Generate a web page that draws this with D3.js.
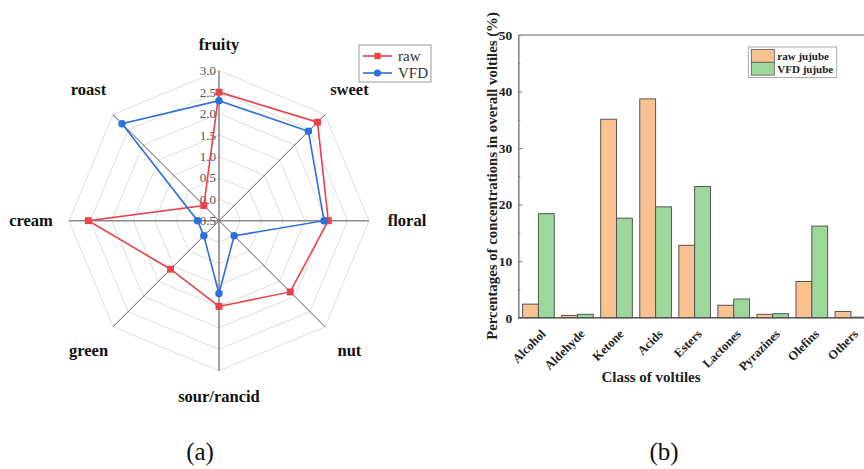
<!DOCTYPE html>
<html>
<head>
<meta charset="utf-8">
<script src="https://cdn.jsdelivr.net/npm/d3@7"></script>
<style>
  body { margin: 0; background: #fff; }
  svg { display: block; }
  text { font-family: 'Liberation Serif', 'Times New Roman', serif; }
</style>
</head>
<body>
<svg width="864" height="469"></svg>
<script>
// (a) radar chart data
const radarAxes = ['fruity', 'sweet', 'floral', 'nut', 'sour/rancid', 'green', 'cream', 'roast']
const rawScores = [2.5, 2.75, 2.05, 1.85, 1.5, 1.1, 2.55, 0.0]
const vfdScores = [2.3, 2.45, 1.95, 0.0, 1.2, 0.0, 0.0, 2.7]
const radarTicks = [-0.5, 0, 0.5, 1, 1.5, 2, 2.5, 3]

// (b) bar chart data
const volatileClasses = ['Alcohol', 'Aldehyde', 'Ketone', 'Acids', 'Esters', 'Lactones', 'Pyrazines', 'Olefins', 'Others']
const rawJujube = [2.4, 0.4, 35.1, 38.7, 12.8, 2.2, 0.6, 6.4, 1.1]
const vfdJujube = [18.4, 0.6, 17.6, 19.6, 23.2, 3.3, 0.7, 16.2, 0.1]
const barTicks = [0, 10, 20, 30, 40, 50]

const svg = d3.select('svg')

const RED = '#e8424a', BLUE = '#2a6fdc'
const PEACH = '#f9c290', GREEN = '#9dd79b'

// ---------- radar ----------
const cx = 219, cy = 220.7
const r = d3.scaleLinear().domain([-0.5, 3]).range([0, 150])
const angle = i => i * 2 * Math.PI / radarAxes.length
const pt = (i, v) => [cx + r(v) * Math.sin(angle(i)), cy - r(v) * Math.cos(angle(i))]

const radar = svg.append('g')

// grid rings
radar.selectAll('polygon.ring')
  .data(radarTicks.slice(1))
  .enter()
  .append('polygon')
  .attr('points', t => radarAxes.map((a, i) => pt(i, t).join(',')).join(' '))
  .attr('fill', 'none')
  .attr('stroke', '#d4d4d4')
  .attr('stroke-width', 0.8)

// spokes
radar.selectAll('line.spoke')
  .data(radarAxes)
  .enter()
  .append('line')
  .attr('x1', cx).attr('y1', cy)
  .attr('x2', (a, i) => pt(i, 3)[0])
  .attr('y2', (a, i) => pt(i, 3)[1])
  .attr('stroke', (a, i) => i % 2 === 0 ? '#8a8a8a' : '#555')
  .attr('stroke-width', (a, i) => i % 2 === 0 ? 1.6 : 1)

// tick labels along fruity axis
radar.selectAll('text.tick')
  .data(radarTicks)
  .enter()
  .append('text')
  .attr('x', cx - 3)
  .attr('y', t => cy - r(t))
  .attr('dy', '0.35em')
  .attr('text-anchor', 'end')
  .attr('font-size', 13)
  .attr('fill', '#555')
  .text(t => d3.format('.1f')(t))

// axis labels
radar.selectAll('text.axis')
  .data(radarAxes)
  .enter()
  .append('text')
  .attr('x', (a, i) => cx + (176 + 12 * Math.abs(Math.sin(angle(i)))) * Math.sin(angle(i)))
  .attr('y', (a, i) => cy - (176 + 12 * Math.abs(Math.sin(angle(i)))) * Math.cos(angle(i)))
  .attr('dy', '0.3em')
  .attr('text-anchor', 'middle')
  .attr('font-size', 16.5)
  .attr('font-weight', 'bold')
  .attr('fill', '#111')
  .text(a => a)

const radarLine = d3.line().curve(d3.curveLinearClosed)

const series = [
  { name: 'raw', values: rawScores, color: RED, shape: 'square' },
  { name: 'VFD', values: vfdScores, color: BLUE, shape: 'circle' }
]

series.forEach(s => {
  radar.append('path')
    .attr('d', radarLine(s.values.map((v, i) => pt(i, v))))
    .attr('fill', 'none')
    .attr('stroke', s.color)
    .attr('stroke-width', 1.6)
})

series.forEach(s => {
  radar.append('g').selectAll('path')
    .data(s.values)
    .enter()
    .append('path')
    .attr('transform', (v, i) => `translate(${pt(i, v)})`)
    .attr('d', d3.symbol(s.shape === 'square' ? d3.symbolSquare : d3.symbolCircle, s.shape === 'square' ? 48 : 44))
    .attr('fill', s.color)
})

// radar legend
const rl = radar.append('g').attr('transform', 'translate(359,45)')
rl.append('rect')
  .attr('width', 72).attr('height', 37)
  .attr('fill', '#fff').attr('stroke', '#999')
series.forEach((s, k) => {
  const ly = 11 + k * 17
  rl.append('line').attr('x1', 4).attr('x2', 33).attr('y1', ly).attr('y2', ly)
    .attr('stroke', s.color).attr('stroke-width', 1.6)
  rl.append('path').attr('transform', `translate(18.5,${ly})`)
    .attr('d', d3.symbol(s.shape === 'square' ? d3.symbolSquare : d3.symbolCircle, 40))
    .attr('fill', s.color)
  rl.append('text').attr('x', 39).attr('y', ly).attr('dy', '0.35em')
    .attr('font-size', 15).attr('fill', '#333').text(s.name)
})

// ---------- bars ----------
const plotLeft = 518.3, plotRight = 871, plotTop = 35, plotBottom = 317.7

const x = d3.scaleBand().domain(volatileClasses).range([plotLeft, plotRight])
  .paddingInner(0.19).paddingOuter(0.11)
const xSub = d3.scaleBand().domain(['raw', 'vfd']).range([0, x.bandwidth()])
const y = d3.scaleLinear().domain([0, 50]).range([plotBottom, plotTop])

const bars = svg.append('g')

bars.append('g')
  .selectAll('rect')
  .data(rawJujube)
  .enter()
  .append('rect')
  .attr('x', (d, i) => x(volatileClasses[i]) + xSub('raw'))
  .attr('y', d => y(d))
  .attr('width', xSub.bandwidth())
  .attr('height', d => y(0) - y(d))
  .attr('fill', PEACH)
  .attr('stroke', '#555')
  .attr('stroke-width', 1)

bars.append('g')
  .selectAll('rect')
  .data(vfdJujube)
  .enter()
  .append('rect')
  .attr('x', (d, i) => x(volatileClasses[i]) + xSub('vfd'))
  .attr('y', d => y(d))
  .attr('width', xSub.bandwidth())
  .attr('height', d => y(0) - y(d))
  .attr('fill', GREEN)
  .attr('stroke', '#555')
  .attr('stroke-width', 1)

// y axis, ticks point inward
const yAxis = bars.append('g')
  .attr('transform', `translate(${plotLeft},0)`)
  .call(d3.axisLeft(y).tickValues(barTicks).tickSize(-4).tickSizeOuter(0).tickPadding(6))
yAxis.select('.domain').attr('stroke', '#888').attr('stroke-width', 1.6)
yAxis.selectAll('.tick line').attr('stroke', '#777')
yAxis.selectAll('text')
  .attr('font-family', 'Liberation Serif, serif')
  .attr('font-size', 13.5).attr('font-weight', 'bold').attr('fill', '#222')

bars.append('g')
  .attr('transform', `translate(${plotLeft},0)`)
  .call(d3.axisLeft(y).tickValues([5, 15, 25, 35, 45]).tickSize(-2).tickFormat(''))
  .call(g => g.select('.domain').remove())
  .selectAll('.tick line').attr('stroke', '#777')

// frame top and bottom
bars.append('line').attr('x1', plotLeft).attr('x2', plotRight).attr('y1', plotTop).attr('y2', plotTop)
  .attr('stroke', '#999').attr('stroke-width', 1.4)
bars.append('line').attr('x1', plotLeft).attr('x2', plotRight).attr('y1', plotBottom).attr('y2', plotBottom)
  .attr('stroke', '#555').attr('stroke-width', 1.6)

// rotated category labels
bars.selectAll('text.cat')
  .data(volatileClasses)
  .enter()
  .append('text')
  .attr('transform', c => `translate(${x(c) + x.bandwidth() / 2 + 8},${plotBottom + 17}) rotate(-45)`)
  .attr('text-anchor', 'end')
  .attr('font-size', 12.5)
  .attr('font-weight', 'bold')
  .attr('fill', '#222')
  .text(c => c)

bars.append('text')
  .attr('x', 651).attr('y', 382)
  .attr('text-anchor', 'middle')
  .attr('font-size', 15).attr('font-weight', 'bold').attr('fill', '#222')
  .text('Class of voltiles')

bars.append('text')
  .attr('transform', 'translate(497,176) rotate(-90)')
  .attr('text-anchor', 'middle')
  .attr('font-size', 14.8).attr('font-weight', 'bold').attr('fill', '#222')
  .text('Percentages of concentrations in overall voltiles (%)')

// bar legend
const bl = bars.append('g').attr('transform', 'translate(748.3,47)')
bl.append('rect').attr('width', 88.4).attr('height', 30.5)
  .attr('fill', '#fff').attr('stroke', '#aaa')
const legendItems = [['raw jujube', PEACH], ['VFD jujube', GREEN]]
legendItems.forEach(([name, col], k) => {
  bl.append('rect').attr('x', 3).attr('y', 2.5 + k * 12.8).attr('width', 23).attr('height', 12.8)
    .attr('fill', col).attr('stroke', '#555').attr('stroke-width', 0.8)
  bl.append('text').attr('x', 29).attr('y', 8.9 + k * 13).attr('dy', '0.35em')
    .attr('font-size', 11).attr('font-weight', 'bold').attr('fill', '#222').text(name)
})

// panel labels
svg.append('text').attr('x', 200).attr('y', 460).attr('text-anchor', 'middle')
  .attr('font-size', 25).attr('fill', '#111').text('(a)')
svg.append('text').attr('x', 664).attr('y', 460).attr('text-anchor', 'middle')
  .attr('font-size', 25).attr('fill', '#111').text('(b)')
</script>
</body>
</html>
